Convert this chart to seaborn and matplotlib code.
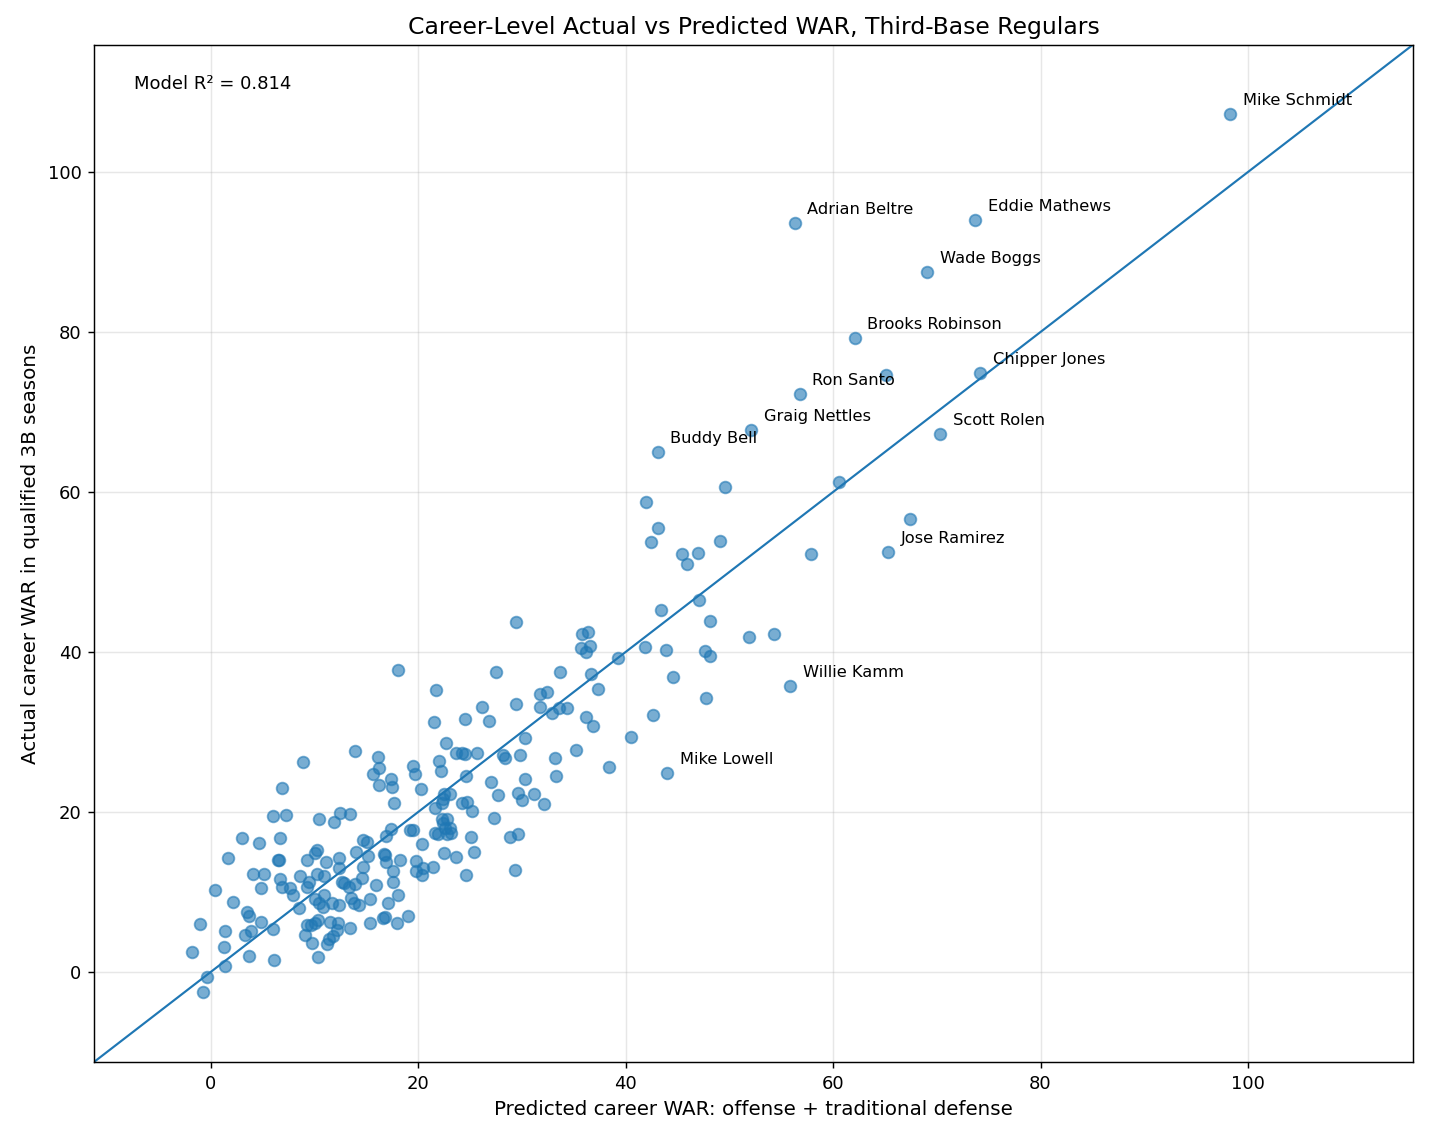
import numpy as np
import pandas as pd
import matplotlib
matplotlib.use("Agg")
import matplotlib.pyplot as plt
import seaborn as sns

# Labelled players first, then the rest of the regulars
names = ["Mike Schmidt", "Adrian Beltre", "Eddie Mathews", "Wade Boggs",
         "Brooks Robinson", "Chipper Jones", "Ron Santo", "Graig Nettles",
         "Scott Rolen", "Buddy Bell", "Jose Ramirez", "Willie Kamm", "Mike Lowell"]

predicted = [98.3, 56.3, 73.7, 69.1, 62.1, 74.2, 56.8, 52.1, 70.3, 43.1, 65.3, 55.9, 44.0,
             13.9, 8.9, 16.1, 16.2, 15.7, 17.4, 16.2, 17.5, 19.5, 19.7, 20.3, 17.7, 6.9, 6.0,
             7.3, 10.5, 11.9, 12.5, 13.4, 3.0, 4.7, 6.7, 1.7, 6.5, 6.6, 4.1, 5.2, 6.7, 4.9,
             6.9, 7.7, 7.9, 8.6, 9.3, 10.1, 10.3, 11.1, 12.4, 12.4, 14.0, 14.7, 15.1, 15.2,
             14.7, 16.7, 16.9, 17.6, 18.3, 16.9, 17.4, 19.2, 19.5, 20.4, 19.8, 19.8, 20.4,
             20.5, 17.6, 15.9, 18.1, 17.1, 15.4, 14.6, 13.9, 12.9, 13.3, 12.7, 13.5, 13.8,
             14.3, 12.4, 11.7, 10.9, 10.1, 10.5, 10.8, 9.5, 9.3, 10.3, 10.9, 8.5, 0.4, 2.2,
             3.5, 3.7, 4.9, 6.0, 3.9, 3.3, 1.4, -1.0, 1.3, -1.8, 3.7, 6.1, 1.4, -0.3, -0.7,
             9.3, 9.7, 10.1, 10.4, 11.5, 12.3, 12.2, 11.8, 11.4, 13.4, 9.1, 9.8, 11.2, 10.4,
             15.4, 16.6, 16.8, 18.0, 19.0, 18.1, 27.5, 21.7, 21.5, 24.5, 26.2, 26.8, 29.4,
             31.8, 32.4, 31.8, 30.3, 22.7, 23.7, 24.2, 24.5, 25.7, 22.0, 22.2, 24.6, 28.2,
             28.4, 29.8, 30.3, 27.0, 27.7, 29.6, 30.0, 31.2, 32.1, 22.5, 23.1, 22.4, 22.3,
             21.6, 24.2, 24.7, 25.2, 27.3, 28.9, 29.6, 25.1, 25.4, 24.6, 29.3, 22.5, 23.7,
             21.4, 22.3, 22.8, 22.4, 22.6, 23.1, 23.2, 22.8, 21.9, 21.6, 16.8, 29.4, 47.1,
             43.4, 48.1, 51.9, 54.3, 35.8, 36.4, 35.7, 36.6, 36.2, 41.9, 43.9, 47.7, 48.1,
             39.3, 33.7, 36.7, 44.6, 37.3, 47.8, 32.9, 33.6, 34.4, 36.2, 36.9, 42.6, 40.5,
             35.2, 33.2, 38.4, 33.3, 49.6, 60.6, 42.0, 43.1, 42.5, 45.4, 45.9, 47.0, 49.1,
             57.9, 67.4, 65.1]

actual = [107.3, 93.6, 94.0, 87.5, 79.3, 74.9, 72.2, 67.8, 67.3, 65.0, 52.5, 35.7, 24.9,
          27.6, 26.2, 26.9, 25.5, 24.7, 24.1, 23.4, 23.1, 25.7, 24.7, 22.9, 21.1, 23.0, 19.5,
          19.6, 19.1, 18.8, 19.9, 19.8, 16.7, 16.1, 16.7, 14.3, 14.0, 14.0, 12.3, 12.3, 11.7,
          10.5, 10.7, 10.5, 9.7, 12.0, 14.0, 14.9, 15.3, 13.8, 14.3, 13.0, 15.0, 16.5, 16.2,
          14.5, 13.1, 14.8, 13.7, 12.7, 14.0, 17.0, 17.9, 17.8, 17.7, 16.0, 13.9, 12.7, 12.2,
          13.0, 11.3, 10.9, 9.6, 8.6, 9.2, 11.8, 11.0, 11.1, 10.7, 11.3, 9.3, 8.6, 8.4, 8.4,
          8.7, 9.6, 9.2, 8.6, 8.1, 11.3, 10.7, 12.3, 12.0, 8.0, 10.3, 8.8, 7.5, 7.0, 6.3,
          5.4, 5.2, 4.7, 5.2, 6.0, 3.1, 2.5, 2.0, 1.5, 0.8, -0.6, -2.5, 5.9, 5.9, 6.2, 6.5,
          6.3, 6.1, 5.3, 4.5, 4.1, 5.5, 4.6, 3.6, 3.5, 1.9, 6.2, 6.8, 6.9, 6.2, 7.0, 37.8,
          37.5, 35.2, 31.2, 31.6, 33.1, 31.4, 33.5, 34.8, 35.0, 33.1, 29.2, 28.6, 27.4, 27.4,
          27.2, 27.4, 26.4, 25.1, 24.5, 27.1, 26.7, 27.1, 24.1, 23.8, 22.1, 22.4, 21.5, 22.2,
          21.0, 22.2, 22.3, 21.6, 21.1, 20.5, 21.1, 21.3, 20.1, 19.3, 16.9, 17.2, 16.9, 15.0,
          12.1, 12.8, 14.9, 14.4, 13.1, 19.1, 19.1, 18.6, 18.0, 18.0, 17.4, 17.2, 17.2, 17.4,
          14.6, 43.8, 46.5, 45.3, 43.9, 41.9, 42.2, 42.3, 42.5, 40.5, 40.8, 40.0, 40.6, 40.3,
          40.1, 39.5, 39.2, 37.5, 37.3, 36.9, 35.4, 34.2, 32.4, 33.0, 33.0, 31.9, 30.7, 32.1,
          29.4, 27.7, 26.8, 25.6, 24.5, 60.6, 61.3, 58.8, 55.5, 53.7, 52.3, 51.0, 52.4, 53.9,
          52.2, 56.6, 74.6]

r2 = 0.814
lims = (-11.23, 115.9)

df = pd.DataFrame({"predicted": predicted, "actual": actual})

fig, ax = plt.subplots(figsize=(1429 / 130, 1138 / 130), dpi=130)
fig.subplots_adjust(left=0.0658, right=0.9888, top=0.9607, bottom=0.0668)

sns.scatterplot(data=df, x="predicted", y="actual", ax=ax, s=42, alpha=0.6,
                color="#1f77b4", edgecolor="#1f77b4", linewidth=1.0, zorder=3)
ax.axline((0, 0), slope=1, color="#1f77b4", linewidth=1.2, zorder=2)

for i, name in enumerate(names):
    ax.annotate(name, (predicted[i], actual[i]), xytext=(7, 5),
                textcoords="offset points", fontsize=9)

ax.text(0.03, 0.97, f"Model R\u00b2 = {r2:.3f}", transform=ax.transAxes,
        va="top", ha="left", fontsize=10)

ax.set_xlim(*lims)
ax.set_ylim(*lims)
ax.grid(True, alpha=0.3)
ax.set_axisbelow(True)
ax.tick_params(labelsize=10)
ax.set_xlabel("Predicted career WAR: offense + traditional defense", fontsize=11)
ax.set_ylabel("Actual career WAR in qualified 3B seasons", fontsize=11)
ax.set_title("Career-Level Actual vs Predicted WAR, Third-Base Regulars", fontsize=13)

fig.savefig("out.png", dpi=130)
plt.close(fig)
